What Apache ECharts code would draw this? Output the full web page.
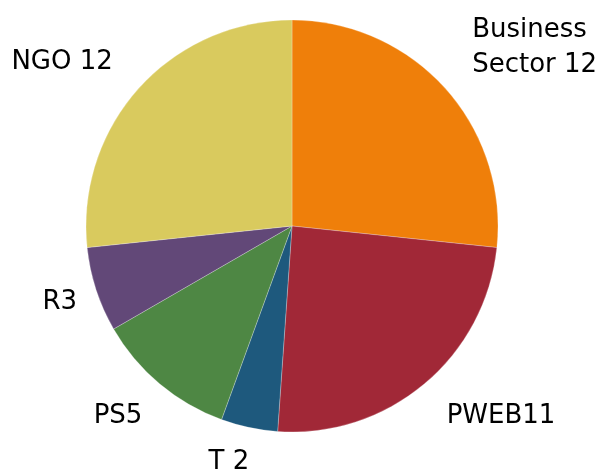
<!DOCTYPE html>
<html><head><meta charset="utf-8">
<script src="https://cdn.jsdelivr.net/npm/echarts@6/dist/echarts.min.js"></script>
<style>html,body{margin:0;padding:0;background:#fff}#c{width:608px;height:470px}</style>
</head><body><div id="c"></div>
<script>
const categories = ["Business\nSector", "PWEB", "T", "PS", "R", "NGO"];
const separators = [" ", "", " ", "", "", " "];
const values = [12, 11, 2, 5, 3, 12];
const colors = ["#EF7F0A", "#A12837", "#1E597D", "#4E8744", "#624878", "#D9CA5E"];

// layout settings (label nudges in px, not data)
const CX = 292, CY = 226, R = 206, GAP = 19;
const labelNudge = [[13, 7], [10, 0], [4, -1], [-5, 0], [-1, -11], [-12, 4]];

const total = values.reduce((a, b) => a + b, 0);
const midAngles = [];
values.reduce((acc, v) => { midAngles.push((acc + v / 2) / total * 2 * Math.PI); return acc + v; }, 0);

const chart = echarts.init(document.getElementById('c'), null, {renderer: 'canvas'});
chart.setOption({
  animation: false,
  series: [{
    type: 'pie',
    center: [CX, CY],
    radius: R,
    startAngle: 90,
    clockwise: true,
    avoidLabelOverlap: false,
    data: categories.map((c, i) => ({name: c, value: values[i], itemStyle: {color: colors[i]}})),
    itemStyle: {borderColor: 'rgba(255,255,255,0.5)', borderWidth: 0.5},
    label: {
      show: true,
      position: 'outside',
      color: '#000',
      fontFamily: 'DejaVu Sans',
      fontSize: 26,
      lineHeight: 35,
      formatter: p => p.name + separators[p.dataIndex] + p.value
    },
    labelLine: {show: false, length: 20, length2: 0},
    labelLayout: p => {
      const i = p.dataIndex;
      const a = midAngles[i];
      const s = Math.sin(a), c = Math.cos(a);
      return {
        x: CX + (R + GAP) * s + labelNudge[i][0],
        y: CY - (R + GAP) * c + labelNudge[i][1],
        align: s >= 0 ? 'left' : 'right',
        verticalAlign: c >= 0 ? 'bottom' : 'top'
      };
    },
    emphasis: {disabled: true}
  }]
});
</script></body></html>
